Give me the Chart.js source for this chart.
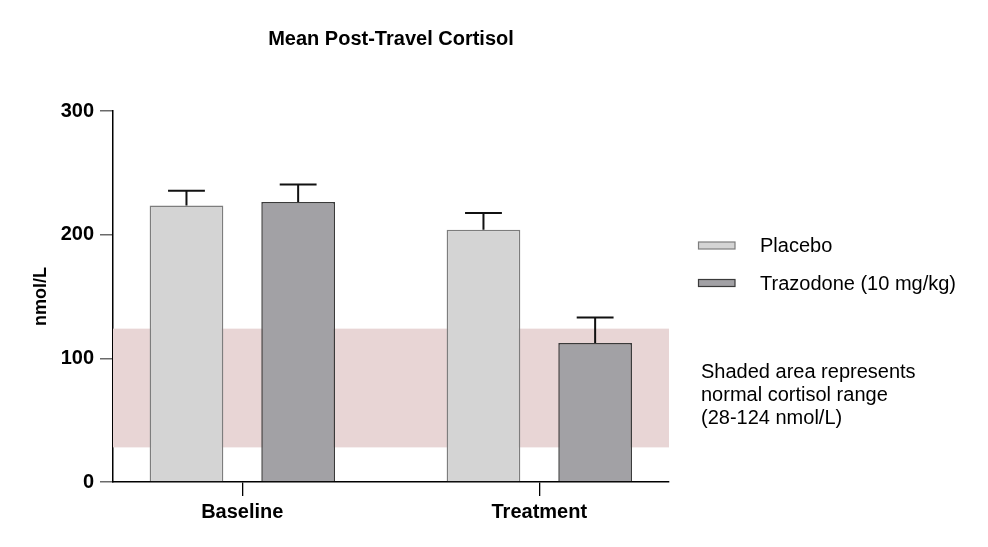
<!DOCTYPE html>
<html>
<head>
<meta charset="utf-8">
<script src="https://cdn.jsdelivr.net/npm/chart.js@4/dist/chart.umd.min.js"></script>
<style>
  html, body { margin: 0; padding: 0; background: #fff; }
  #wrap { width: 988px; height: 547px; position: relative; }
</style>
</head>
<body>
<div id="wrap"><canvas id="chart"></canvas></div>
<script>
// ── Dados ─────────────────────────────────────────────────────────────────
const CATEGORIES    = ["Baseline", "Treatment"];
const PLACEBO       = [223.5, 204];
const PLACEBO_ERR   = [12, 13.5];
const TRAZODONE     = [226.5, 112.5];
const TRAZODONE_ERR = [14, 20.5];
const NORMAL_RANGE  = [28, 124];
const Y_TICKS       = [0, 100, 200, 300];
const NOTE_LINES    = ["Shaded area represents", "normal cortisol range", "(28-124 nmol/L)"];

const FONT = "'Liberation Sans', Arial, Helvetica, sans-serif";

const COLOR = {
  placebo:       "#d4d4d4",
  placeboEdge:   "#7d7d7d",
  trazodone:     "#a2a1a5",
  trazodoneEdge: "#3a3a3a",
  band:          "#e8d5d5",
  ink:           "#000000",
  err:           "#111111",
};

// faixa normal de cortisol, atrás das barras
const bandPlugin = {
  id: "band",
  beforeDatasetsDraw(chart) {
    const { ctx, chartArea, scales } = chart;
    const y1 = scales.y.getPixelForValue(NORMAL_RANGE[1]);
    const y0 = scales.y.getPixelForValue(NORMAL_RANGE[0]);
    ctx.save();
    ctx.fillStyle = COLOR.band;
    ctx.fillRect(chartArea.left, y1, chartArea.right - chartArea.left, y0 - y1);
    ctx.restore();
  },
};

// barras de erro só para cima (média + EPM)
const errorBarPlugin = {
  id: "errorBars",
  afterDatasetsDraw(chart) {
    const { ctx, scales } = chart;
    ctx.save();
    ctx.strokeStyle = COLOR.err;
    ctx.lineWidth = 2;
    chart.data.datasets.forEach((ds, di) => {
      const meta = chart.getDatasetMeta(di);
      meta.data.forEach((bar, i) => {
        const top = scales.y.getPixelForValue(ds.data[i].y + ds.errors[i]);
        const half = bar.width / 4;
        ctx.beginPath();
        ctx.moveTo(bar.x, bar.y);
        ctx.lineTo(bar.x, top);
        ctx.moveTo(bar.x - half, top);
        ctx.lineTo(bar.x + half, top);
        ctx.stroke();
      });
    });
    ctx.restore();
  },
};

// legenda + nota à direita da área do gráfico
const sideLegendPlugin = {
  id: "sideLegend",
  afterDraw(chart) {
    const { ctx } = chart;
    ctx.save();
    ctx.font = `20px ${FONT}`;
    ctx.textBaseline = "middle";
    ctx.fillStyle = COLOR.ink;
    chart.data.datasets.forEach((ds, i) => {
      const cy = 245.5 + i * 37.5;
      ctx.fillStyle = ds.backgroundColor;
      ctx.fillRect(698.5, cy - 3.5, 36.5, 7);
      ctx.strokeStyle = ds.borderColor;
      ctx.lineWidth = 1.2;
      ctx.strokeRect(698.5, cy - 3.5, 36.5, 7);
      ctx.fillStyle = COLOR.ink;
      ctx.fillText(ds.label, 760, cy + 1);
    });
    NOTE_LINES.forEach((line, i) => {
      ctx.fillText(line, 701, 372 + i * 23.3);
    });
    ctx.restore();
  },
};

function makeChart(id) {
  const ctx = document.getElementById(id).getContext("2d");
  return new Chart(ctx, {
    type: "bar",
    data: {
      datasets: [
        {
          label: "Placebo",
          data: PLACEBO.map((v, i) => ({ x: i, y: v })),
          errors: PLACEBO_ERR,
          backgroundColor: COLOR.placebo,
          borderColor: COLOR.placeboEdge,
          borderWidth: 1.5,
        },
        {
          label: "Trazodone (10 mg/kg)",
          data: TRAZODONE.map((v, i) => ({ x: i, y: v })),
          errors: TRAZODONE_ERR,
          backgroundColor: COLOR.trazodone,
          borderColor: COLOR.trazodoneEdge,
          borderWidth: 1.5,
        },
      ],
    },
    options: {
      responsive: true,
      maintainAspectRatio: false,
      animation: false,
      categoryPercentage: 0.752,
      barPercentage: 0.66,
      layout: { padding: { left: 0, right: 319, top: 0, bottom: 0 } },
      plugins: {
        legend: { display: false },
        tooltip: { enabled: false },
        title: {
          display: true,
          text: "Mean Post-Travel Cortisol",
          fullSize: false,
          color: COLOR.ink,
          font: { family: FONT, size: 20, weight: "bold" },
          padding: { top: 27, bottom: 60 },
        },
      },
      scales: {
        x: {
          type: "linear",
          offset: false,
          min: -0.4354,
          max: 1.4367,
          afterBuildTicks: (scale) => { scale.ticks = CATEGORIES.map((c, i) => ({ value: i })); },
          afterFit: (scale) => { scale.height = 65; },
          ticks: {
            color: COLOR.ink,
            font: { family: FONT, size: 20, weight: "bold" },
            padding: 4,
            callback: (v) => CATEGORIES[v],
          },
          grid: { offset: false, drawOnChartArea: false, drawTicks: true, tickLength: 14, color: COLOR.ink, lineWidth: 1.3 },
          border: { display: true, color: COLOR.ink, width: 1.5 },
        },
        y: {
          min: 0,
          max: 300,
          afterBuildTicks: (scale) => { scale.ticks = Y_TICKS.map((v) => ({ value: v })); },
          afterFit: (scale) => { scale.width = 113; },
          ticks: {
            color: COLOR.ink,
            font: { family: FONT, size: 20, weight: "bold" },
            padding: 6,
          },
          grid: { drawOnChartArea: false, drawTicks: true, tickLength: 13, color: "#6a6a6a", lineWidth: 1.5 },
          border: { display: true, color: COLOR.ink, width: 1.5 },
          title: {
            display: true,
            text: "nmol/L",
            color: COLOR.ink,
            font: { family: FONT, size: 18, weight: "bold" },
            padding: { top: 30, bottom: 0 },
          },
        },
      },
    },
    plugins: [bandPlugin, errorBarPlugin, sideLegendPlugin],
  });
}

makeChart("chart");
</script>
</body>
</html>
